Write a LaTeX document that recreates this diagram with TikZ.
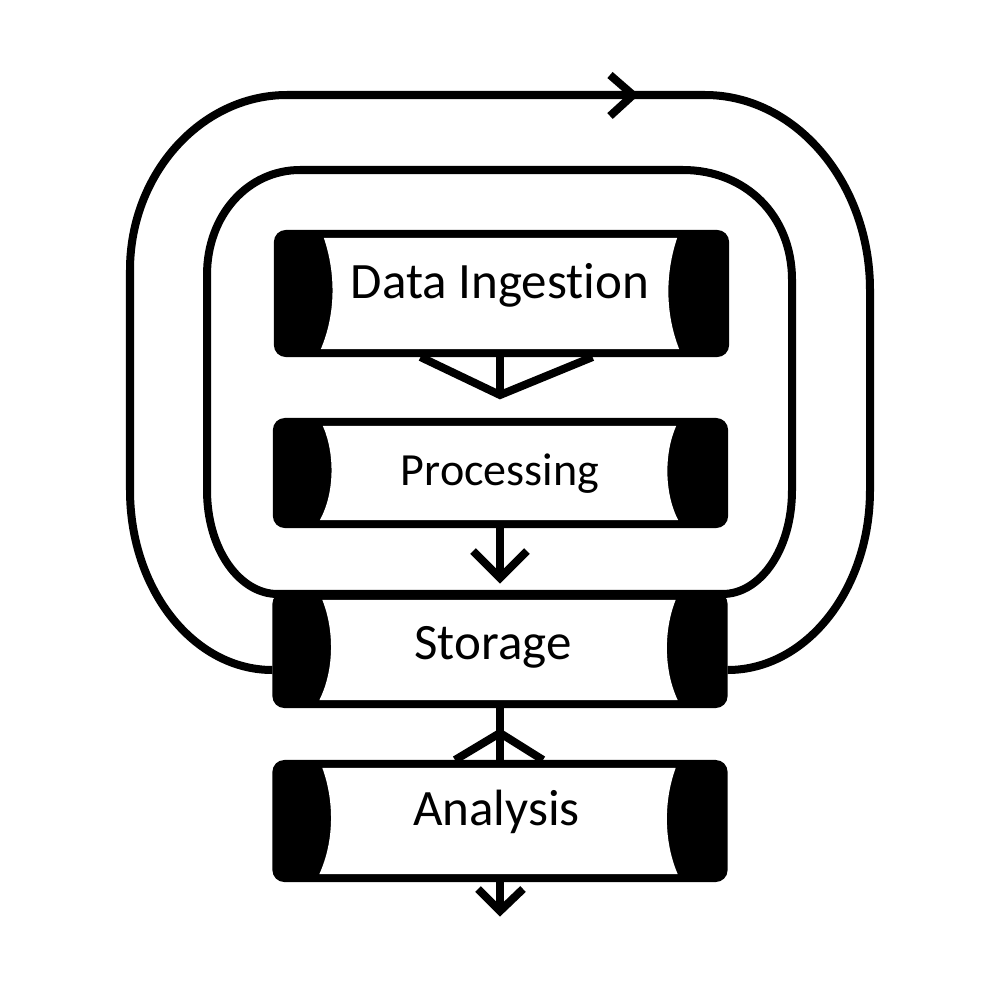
\documentclass[tikz,border=0pt]{standalone}
\usepackage{fontspec}
\setmainfont{Carlito}[Ligatures=NoCommon]
\usetikzlibrary{calc}
\newcommand\pipeshape[1]{%
  \fill[rounded corners=0.12cm] (#1.north west) rectangle (#1.south east);
  \fill[white] ($(#1.north west)+(50,8)$) -- ($(#1.north east)+(-52,8)$)
     .. controls ($(#1.east)+(-64,-20)$) and ($(#1.east)+(-64,20)$) .. ($(#1.south east)+(-50,-8)$)
     -- ($(#1.south west)+(47,-8)$)
     .. controls ($(#1.west)+(62,20)$) and ($(#1.west)+(62,-20)$) .. cycle;
}
\begin{document}
\begin{tikzpicture}[x=0.01cm,y=-0.01cm,
  line width=0.08cm, line join=miter,
  pipe/.style={minimum width=4.55cm, inner sep=0, outer sep=0},
  lbl/.style={inner sep=0, text height=0.632em, text depth=0pt, font=\fontsize{14.5}{16}\selectfont}]
\useasboundingbox (0,0) rectangle (1000,1000);
\fill[white] (0,0) rectangle (1000,1000);

% box frames (named)
\node[pipe, minimum height=1.27cm] (di) at (501.5,293.5) {};
\node[pipe, minimum height=1.10cm] (pr) at (500.5,473) {};
\node[pipe, minimum height=1.16cm] (st) at (500,650) {};
\node[pipe, minimum height=1.22cm] (an) at (500,821) {};

% outer feedback loop
\draw ($(st.west)+(0,20)$) .. controls (194,670) and (130,590) .. (130,490)
  -- (130,270) .. controls (130,174) and (201,95) .. (287,95)
  -- (705,95) .. controls (796,95) and (870,183) .. (870,290)
  -- (870,490) .. controls (870,590) and (806,670) .. ($(st.east)+(0,20)$);
\coordinate (oa) at (633,95);
\draw ($(oa)+(-23,-20)$) -- (oa) -- ($(oa)+(-23,21)$);

% inner loop
\draw ($(st.north west)+(5,2)$) -- ($(st.north east)+(-5,2)$)
  .. controls (760,594) and (792,550) .. (792,490)
  -- (792,280) .. controls (792,215) and (745,170) .. (683,170)
  -- (300,170) .. controls (248,170) and (207,215) .. (207,275)
  -- (207,490) .. controls (207,550) and (240,594) .. ($(st.north west)+(5,2)$) -- cycle;

% boxes
\pipeshape{di}
\pipeshape{pr}
\pipeshape{st}
\pipeshape{an}

% connectors
\coordinate (f1) at (500,395);
\draw ($(di.south)+(-81,0)$) -- (f1) -- ($(di.south)+(91,0)$);
\draw (di.south -| f1) -- (f1);

\coordinate (c2) at (500,578);
\draw (pr.south -| c2) -- (c2);
\draw ($(c2)+(-27,-27)$) -- (c2) -- ($(c2)+(27,-27)$);

\coordinate (c3) at (500,733);
\draw (st.south -| c3) -- (an.north -| c3);
\draw ($(an.north -| c3)+(-45,0)$) -- (c3) -- ($(an.north -| c3)+(43,0)$);

\coordinate (c4) at (500,911);
\draw (an.south -| c4) -- (c4);
\draw ($(c4)+(-22,-22)$) -- (c4) -- ($(c4)+(23,-22)$);

% labels
\node[lbl] (tdi) at (500,287.5) {Data Ingestion};
\node[lbl, font=\fontsize{13.1}{15}\selectfont] (tpr) at (500,474) {Processing};
\node[lbl] (tst) at (493,648) {Storage};
\node[lbl] (tan) at (496.5,814) {Analysis};
\end{tikzpicture}
\end{document}
